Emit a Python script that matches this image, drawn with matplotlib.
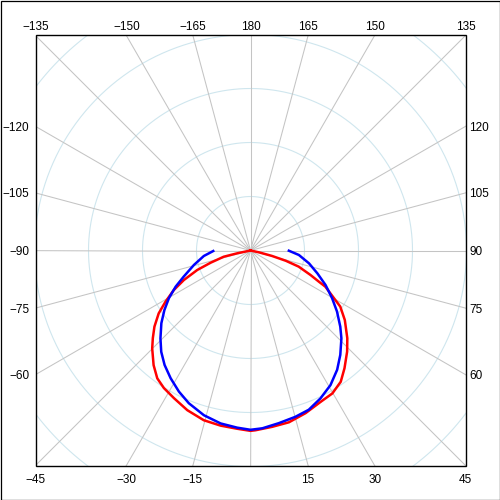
import numpy as np
import matplotlib
matplotlib.use("Agg")
import matplotlib.pyplot as plt
from matplotlib.patches import Rectangle

# ---- data (theta in degrees, 0 = down, 90 = right; r in grid units, ring spacing 10) ----
red_theta = [-90, -78.1, -76.9, -73.0, -69.9, -66.1, -62.7, -58.9, -55.6, -51.6, -48.1, -45.1,
             -40.2, -36.1, -32.2, -27.4, -21.6, -15.4, -9.7, -4.3, 0, 1.6, 7.0, 12.6, 18.7,
             24.8, 29.8, 34.5, 38.6, 43.7, 47.8, 53.6, 58.0, 60.7, 64.2, 65.5, 67.8, 71.5,
             73.8, 75.8, 77.8, 90]
red_r = [0.0, 2.5, 5.1, 7.7, 10.5, 13.5, 16.0, 18.4, 20.6, 22.7, 24.3, 25.7,
         27.8, 29.3, 30.1, 30.8, 31.8, 32.6, 32.9, 33.1, 33.4, 33.3, 32.9, 32.6, 31.8,
         30.9, 30.5, 29.5, 27.9, 25.9, 24.2, 21.7, 19.6, 17.5, 15.4, 13.9, 12.0, 9.4,
         6.8, 4.1, 1.6, 0.0]

blue_theta = [-89.2, -83.3, -75.7, -68.6, -64.2, -59.7, -55.3, -50.8, -45.7, -41.4, -36.9,
              -32.0, -26.9, -22.0, -15.8, -9.8, -4.3, 0, 3.8, 9.3, 15.1, 20.1, 25.3, 30.7,
              36.0, 40.7, 46.0, 49.7, 54.8, 59.7, 65.3, 71.1, 77.6, 84.7, 89.7]
blue_r = [6.9, 8.7, 10.8, 13.3, 15.4, 17.5, 19.4, 21.3, 23.3, 25.0, 26.5,
          27.9, 29.3, 30.5, 31.7, 32.5, 32.9, 33.2, 33.0, 32.4, 31.9, 31.4, 30.3, 29.0,
          27.3, 25.5, 23.4, 21.8, 19.6, 17.5, 15.3, 13.1, 11.1, 9.0, 7.1]

ring_values = [10, 20, 30, 40, 50, 60]
spoke_angles = list(range(0, 360, 15))
top_labels = [135, 150, 165, 180, -165, -150, -135]
left_labels = [-120, -105, -90, -75, -60]
right_labels = [120, 105, 90, 75, 60]
bottom_labels = [-45, -30, -15, 15, 30, 45]

# ---- layout ----
W = 500.0
cx, cy = 250.5, 249.5          # centre in figure pixels (y from bottom)
half = 215.0                   # half size of the square plot box
px_per_unit = 5.4
rmax = 60.0
R = rmax * px_per_unit

fig = plt.figure(figsize=(5, 5), dpi=100)
fig.patch.set_facecolor("white")

ax = fig.add_axes([(cx - R) / W, (cy - R) / W, 2 * R / W, 2 * R / W], projection="polar")
ax.set_theta_zero_location("S")
ax.set_theta_direction(1)
ax.set_ylim(0, rmax)
ax.set_axis_off()

clip = Rectangle(((cx - half) / W, (cy - half) / W), 2 * half / W, 2 * half / W,
                 transform=fig.transFigure)

# grid: rings and spokes
tt = np.linspace(0, 2 * np.pi, 721)
for rv in ring_values:
    ax.plot(tt, np.full_like(tt, rv), color="#cfe6ee", lw=0.8, clip_path=clip, zorder=1)
for a in spoke_angles:
    ax.plot([np.deg2rad(a)] * 2, [0, rmax], color="#c4c4c4", lw=0.75, clip_path=clip, zorder=2)

# data
ax.plot(np.deg2rad(red_theta), red_r, color="#ff0000", lw=1.8, clip_path=clip, zorder=3)
ax.plot(np.deg2rad(blue_theta), blue_r, color="#0000ff", lw=1.8, clip_path=clip, zorder=4)

# plot box and outer frame
fig.add_artist(Rectangle(((cx - half) / W, (cy - half) / W), 2 * half / W, 2 * half / W,
                         transform=fig.transFigure, fill=False, ec="black", lw=1.0))
fig.add_artist(Rectangle((0.5 / W, 0.5 / W), 499 / W, 499 / W,
                         transform=fig.transFigure, fill=False, ec="black", lw=0.9))


def lab(v):
    return "180" if v == 180 else ("\u2212%d" % abs(v) if v < 0 else "%d" % v)


def border_point(a):
    ux, uy = np.sin(np.deg2rad(a)), -np.cos(np.deg2rad(a))
    t = half / max(abs(ux), abs(uy))
    return cx + t * ux, cy + t * uy


fkw = dict(fontsize=8.5, family="Liberation Sans", color="black")
for v in top_labels:
    x, y = border_point(v)
    fig.text(x / W, (cy + half + 10.5) / W, lab(v), ha="center", va="center_baseline", **fkw)
for v in bottom_labels:
    x, y = border_point(v)
    fig.text(x / W, (cy - half - 12.8) / W, lab(v), ha="center", va="center_baseline", **fkw)
for v in left_labels:
    x, y = border_point(v)
    fig.text((cx - half - 6) / W, y / W, lab(v), ha="right", va="center_baseline", **fkw)
for v in right_labels:
    x, y = border_point(v)
    fig.text((cx + half + 4) / W, y / W, lab(v), ha="left", va="center_baseline", **fkw)

fig.savefig("out.png", dpi=100)
